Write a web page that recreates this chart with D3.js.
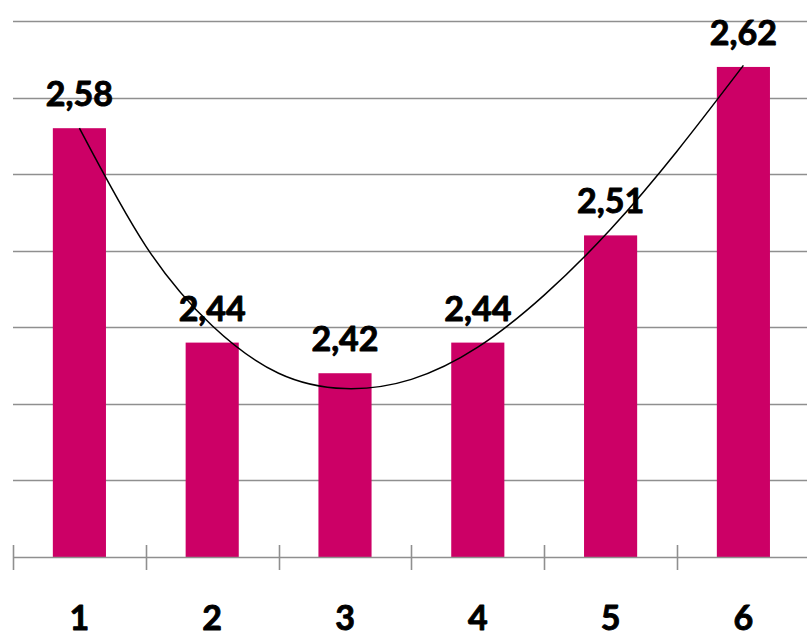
<!DOCTYPE html>
<html>
<head>
<meta charset="utf-8">
<script src="https://cdn.jsdelivr.net/npm/d3@7"></script>
<style>
  html, body { margin: 0; padding: 0; background: #ffffff; }
  svg { display: block; }
</style>
</head>
<body>
<svg id="chart" width="807" height="633"></svg>
<script>
// Categories and values
const categories = ["1", "2", "3", "4", "5", "6"];
const values = [2.58, 2.44, 2.42, 2.44, 2.51, 2.62];
const valueLabels = ["2,58", "2,44", "2,42", "2,44", "2,51", "2,62"];

// Gridline values of the value axis
const gridValues = [2.35, 2.40, 2.45, 2.50, 2.55, 2.60, 2.65];

// Trend line (cubic) points: category position and value
const trendPos = [1, 1.5, 2, 2.5, 3, 3.5, 4, 4.5, 5, 5.5, 6];
const trendVal = [2.580, 2.503, 2.451, 2.420, 2.410, 2.416, 2.437, 2.471, 2.514, 2.565, 2.621];

const svg = d3.select("#chart");
const W = 807;
const left = 13, bandStep = 132.8;
const right = left + categories.length * bandStep;
const baseY = 557, topY = 21;

const x = d3.scaleBand()
  .domain(categories)
  .range([left, right])
  .paddingInner(0.6)
  .paddingOuter(0.3);

const xPos = d3.scaleLinear().domain([0.5, categories.length + 0.5]).range([left, right]);

const y = d3.scaleLinear().domain([2.3, 2.65]).range([baseY, topY]);

const gridColor = "#8f8f8f";
const barColor = "#cc0066";
const fontFam = "Lato, 'Open Sans', sans-serif";

// Heavy bold text: bold face plus a thin outline of the same colour
function heavyText(sel) {
  sel.attr("text-anchor", "middle")
    .attr("font-family", fontFam)
    .attr("font-weight", "bold")
    .attr("font-size", 34)
    .attr("fill", "#000")
    .attr("stroke", "#000")
    .attr("stroke-width", 0.9)
    .attr("stroke-linejoin", "round");
}

// Gridlines
svg.append("g")
  .selectAll("line")
  .data(gridValues)
  .join("line")
  .attr("x1", left)
  .attr("x2", W)
  .attr("y1", d => Math.round(y(d)) + 0.5)
  .attr("y2", d => Math.round(y(d)) + 0.5)
  .attr("stroke", gridColor)
  .attr("stroke-width", 1.6);

// Bars
svg.append("g")
  .selectAll("rect")
  .data(values)
  .join("rect")
  .attr("x", (d, i) => x(categories[i]))
  .attr("width", x.bandwidth())
  .attr("y", d => y(d))
  .attr("height", d => baseY - y(d))
  .attr("fill", barColor);

// Category axis: line, tick marks between categories, labels
const axisG = svg.append("g");
axisG.append("line")
  .attr("x1", left).attr("x2", W)
  .attr("y1", baseY + 0.5).attr("y2", baseY + 0.5)
  .attr("stroke", gridColor).attr("stroke-width", 1.6);

const tickXs = d3.range(categories.length + 1).map(i => left + i * x.step());
axisG.selectAll("line.tick")
  .data(tickXs)
  .join("line")
  .attr("class", "tick")
  .attr("x1", d => Math.round(d) + 0.5)
  .attr("x2", d => Math.round(d) + 0.5)
  .attr("y1", baseY - 12)
  .attr("y2", baseY + 13)
  .attr("stroke", gridColor)
  .attr("stroke-width", 1.6);

axisG.selectAll("text")
  .data(categories)
  .join("text")
  .attr("x", d => x(d) + x.bandwidth() / 2)
  .attr("y", 630)
  .call(heavyText)
  .text(d => d);

// Polynomial trend line
const trendPts = trendPos.map((p, i) => [xPos(p), y(trendVal[i])]);
svg.append("path")
  .attr("d", d3.line().curve(d3.curveNatural)(trendPts))
  .attr("fill", "none")
  .attr("stroke", "#000")
  .attr("stroke-width", 1.5);

// Value labels above bars
svg.append("g")
  .selectAll("text")
  .data(values)
  .join("text")
  .attr("x", (d, i) => x(categories[i]) + x.bandwidth() / 2)
  .attr("y", d => y(d) - 22)
  .call(heavyText)
  .text((d, i) => valueLabels[i]);
</script>
</body>
</html>
